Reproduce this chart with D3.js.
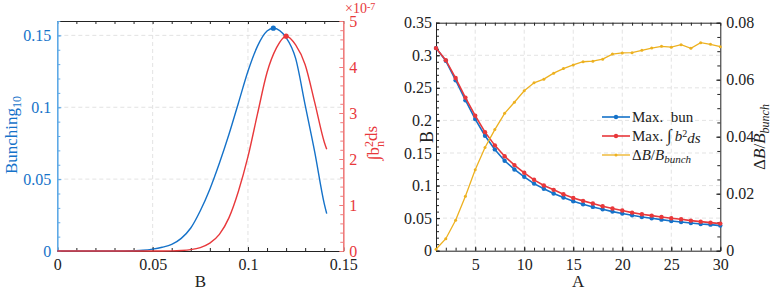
<!DOCTYPE html>
<html>
<head>
<meta charset="utf-8">
<script src="https://cdn.jsdelivr.net/npm/d3@7"></script>
<style>
  body { margin: 0; background: #fff; }
  svg { display: block; }
  svg text { font-family: "Liberation Serif", "Times New Roman", serif; }
</style>
</head>
<body>
<svg id="chart" width="772" height="290"></svg>
<script>
// left panel: bunching and integral vs B
const bunB = [0, 0.01, 0.02, 0.03, 0.035, 0.04, 0.045, 0.05, 0.055, 0.06, 0.065, 0.07, 0.075, 0.08, 0.085, 0.09, 0.095, 0.1, 0.105, 0.11, 0.1133, 0.12, 0.125, 0.13, 0.135, 0.14, 0.1413];
const bunV = [0, 0, 0, 0.00002, 0.00006, 0.0002, 0.0005, 0.0013, 0.0026, 0.0046, 0.0088, 0.016, 0.028, 0.043, 0.061, 0.081, 0.103, 0.125, 0.1425, 0.153, 0.155, 0.1485, 0.134, 0.1015, 0.069, 0.033, 0.026];
const intB = [0, 0.05, 0.055, 0.06, 0.065, 0.07, 0.075, 0.08, 0.085, 0.09, 0.095, 0.1, 0.105, 0.11, 0.115, 0.12, 0.125, 0.13, 0.135, 0.14, 0.1413];
const intV = [0, 0, 0.0005, 0.002, 0.01, 0.03, 0.075, 0.17, 0.36, 0.72, 1.3, 2.05, 2.98, 3.88, 4.42, 4.67, 4.48, 4.05, 3.23, 2.37, 2.21];
const bunPeak = [0.1133, 0.155];
const intPeak = [0.12, 4.67];

// right panel: optimum B vs A
const aVals = d3.range(1, 31);
const maxBun = [0.311, 0.2915, 0.2617, 0.231, 0.202, 0.1765, 0.1555, 0.138, 0.1247, 0.1134, 0.103, 0.095, 0.0878, 0.0816, 0.076, 0.0713, 0.0672, 0.0636, 0.060, 0.057, 0.0544, 0.0518, 0.0498, 0.0477, 0.0457, 0.0441, 0.0426, 0.041, 0.040, 0.0385];
const maxInt = [0.311, 0.2925, 0.265, 0.235, 0.2073, 0.182, 0.1617, 0.145, 0.1314, 0.1196, 0.1088, 0.100, 0.0934, 0.0867, 0.081, 0.0765, 0.0724, 0.0683, 0.0647, 0.0616, 0.0585, 0.056, 0.0539, 0.0518, 0.0498, 0.0482, 0.0462, 0.0446, 0.0431, 0.0416];
const deltaB = [0.0005, 0.0042, 0.0107, 0.0191, 0.0284, 0.0362, 0.0425, 0.0482, 0.0521, 0.0561, 0.0589, 0.0602, 0.0623, 0.0639, 0.0652, 0.0663, 0.0665, 0.0672, 0.069, 0.0694, 0.0695, 0.0703, 0.0711, 0.0717, 0.0714, 0.0723, 0.071, 0.073, 0.0724, 0.0716];

const ticksLX = [0, 0.05, 0.1, 0.15];
const ticksLY = [0, 0.05, 0.1, 0.15];
const ticksLY2 = [0, 1, 2, 3, 4, 5];
const ticksRX = [5, 10, 15, 20, 25, 30];
const ticksRY = [0, 0.05, 0.1, 0.15, 0.2, 0.25, 0.3, 0.35];
const ticksRY2 = [0, 0.02, 0.04, 0.06, 0.08];

const blue = "#1572c9", red = "#e8383b", yellow = "#edb120";
const axBlue = "#5ea9e6", axRed = "#ef7b7b";
const serif = "Liberation Serif, Times New Roman, serif";

const svg = d3.select("#chart");
const fmt = d => String(+d.toFixed(4));
const minor = (lo, hi, step) => d3.range(0, Math.round((hi - lo) / step) + 1).map(i => +(lo + i * step).toFixed(5));

function drawAxis(axis, tx, ty, color, textColor) {
  const g = svg.append("g").attr("transform", `translate(${tx},${ty})`).call(axis)
    .attr("font-family", serif).attr("font-size", 16);
  g.select(".domain").attr("stroke", color);
  g.selectAll(".tick line").attr("stroke", color);
  g.selectAll(".tick text").attr("fill", textColor || color);
  return g;
}
function minorAxis(axis, tx, ty, color) {
  const g = svg.append("g").attr("transform", `translate(${tx},${ty})`).call(axis);
  g.select(".domain").remove();
  g.selectAll(".tick line").attr("stroke", color);
  return g;
}
function grid(xs, ys, x, y, x0, x1, y0, y1) {
  const g = svg.append("g").attr("stroke", "#dcdcdc").attr("stroke-dasharray", "4,3").attr("stroke-width", 0.8);
  g.selectAll("line.v").data(xs).join("line").attr("class", "v")
    .attr("x1", d => x(d)).attr("x2", d => x(d)).attr("y1", y0).attr("y2", y1);
  g.selectAll("line.h").data(ys).join("line").attr("class", "h")
    .attr("y1", d => y(d)).attr("y2", d => y(d)).attr("x1", x0).attr("x2", x1);
}

// ---------- left panel ----------
const L = { x0: 57.3, x1: 343.3, y0: 21, y1: 251 };
const xL = d3.scaleLinear([0, 0.15], [L.x0, L.x1]);
const yL = d3.scaleLinear([0, 0.16], [L.y1, L.y0]);
const yL2 = d3.scaleLinear([0, 5], [L.y1, L.y0]);

grid([0.05, 0.1], [0.05, 0.1, 0.15], xL, yL, L.x0, L.x1, L.y0, L.y1);

minorAxis(d3.axisBottom(xL).tickValues(minor(0, 0.15, 0.01)).tickFormat("").tickSizeInner(-3).tickSizeOuter(0), 0, L.y1, "#222");
minorAxis(d3.axisTop(xL).tickValues(minor(0, 0.15, 0.01)).tickFormat("").tickSizeInner(-3).tickSizeOuter(0), 0, L.y0, "#222");
drawAxis(d3.axisBottom(xL).tickValues(ticksLX).tickFormat(fmt).tickSizeInner(-4).tickSizeOuter(0).tickPadding(8), 0, L.y1, "#222");
drawAxis(d3.axisTop(xL).tickValues([]).tickSizeOuter(0), 0, L.y0, "#222");
minorAxis(d3.axisLeft(yL).tickValues(minor(0, 0.16, 0.01)).tickFormat("").tickSizeInner(-3).tickSizeOuter(0), L.x0, 0, axBlue);
drawAxis(d3.axisLeft(yL).tickValues(ticksLY).tickFormat(fmt).tickSizeInner(-4).tickSizeOuter(0).tickPadding(6), L.x0, 0, axBlue, blue)
  .select(".domain").attr("stroke-width", 1.6);
minorAxis(d3.axisRight(yL2).tickValues(minor(0, 5, 0.2)).tickFormat("").tickSizeInner(-3).tickSizeOuter(0), L.x1, 0, axRed);
drawAxis(d3.axisRight(yL2).tickValues(ticksLY2).tickFormat(fmt).tickSizeInner(-4).tickSizeOuter(0).tickPadding(6), L.x1, 0, axRed, red)
  .select(".domain").attr("stroke-width", 1.6);

const lineBun = d3.line().x((d, i) => xL(bunB[i])).y(d => yL(d)).curve(d3.curveMonotoneX);
const lineInt = d3.line().x((d, i) => xL(intB[i])).y(d => yL2(d)).curve(d3.curveMonotoneX);
svg.append("path").attr("d", lineBun(bunV)).attr("fill", "none").attr("stroke", blue).attr("stroke-width", 1.4);
svg.append("path").attr("d", lineInt(intV)).attr("fill", "none").attr("stroke", red).attr("stroke-width", 1.4);
svg.append("circle").attr("cx", xL(bunPeak[0])).attr("cy", yL(bunPeak[1])).attr("r", 2.6).attr("fill", blue);
svg.append("circle").attr("cx", xL(intPeak[0])).attr("cy", yL2(intPeak[1])).attr("r", 2.6).attr("fill", red);

// labels
svg.append("text").attr("x", (L.x0 + L.x1) / 2).attr("y", 287).attr("text-anchor", "middle")
  .style("font-size", "17px").attr("fill", "#222").text("B");
const lb = svg.append("text").attr("transform", "translate(17,135) rotate(-90)").attr("text-anchor", "middle")
  .style("font-size", "17px").attr("fill", blue);
lb.append("tspan").text("Bunching");
lb.append("tspan").attr("dy", "0.35em").style("font-size", "12px").text("10");
const rb = svg.append("text").attr("transform", "translate(379,143) rotate(-90)").attr("text-anchor", "middle")
  .style("font-size", "17px").attr("fill", red);
rb.append("tspan").text("∫b");
rb.append("tspan").attr("dy", "-0.5em").style("font-size", "12px").text("2");
rb.append("tspan").attr("dx", "-6").attr("dy", "0.9em").style("font-size", "12px").text("n");
rb.append("tspan").attr("dy", "-0.4em").text("ds");
const ex = svg.append("text").attr("x", 345).attr("y", 13).style("font-size", "14px").attr("fill", red);
ex.append("tspan").text("×10");
ex.append("tspan").attr("dy", "-0.35em").style("font-size", "10px").text("-7");

// ---------- right panel ----------
const R = { x0: 436, x1: 720.3, y0: 22.7, y1: 250.7 };
const xR = d3.scaleLinear([1, 30], [R.x0, R.x1]);
const yR = d3.scaleLinear([0, 0.35], [R.y1, R.y0]);
const yR2 = d3.scaleLinear([0, 0.08], [R.y1, R.y0]);

grid([5, 10, 15, 20, 25], [0.05, 0.1, 0.15, 0.2, 0.25, 0.3], xR, yR, R.x0, R.x1, R.y0, R.y1);

minorAxis(d3.axisBottom(xR).tickValues(aVals).tickFormat("").tickSizeInner(-3).tickSizeOuter(0), 0, R.y1, "#222");
minorAxis(d3.axisTop(xR).tickValues(aVals).tickFormat("").tickSizeInner(-3).tickSizeOuter(0), 0, R.y0, "#222");
drawAxis(d3.axisBottom(xR).tickValues(ticksRX).tickFormat(fmt).tickSizeInner(-4).tickSizeOuter(0).tickPadding(8), 0, R.y1, "#222");
drawAxis(d3.axisTop(xR).tickValues([]).tickSizeOuter(0), 0, R.y0, "#222");
minorAxis(d3.axisLeft(yR).tickValues(minor(0, 0.35, 0.01)).tickFormat("").tickSizeInner(-3).tickSizeOuter(0), R.x0, 0, "#222");
drawAxis(d3.axisLeft(yR).tickValues(ticksRY).tickFormat(fmt).tickSizeInner(-4).tickSizeOuter(0).tickPadding(4), R.x0, 0, "#222");
minorAxis(d3.axisRight(yR2).tickValues(minor(0, 0.08, 0.005)).tickFormat("").tickSizeInner(-3).tickSizeOuter(0), R.x1, 0, "#222");
drawAxis(d3.axisRight(yR2).tickValues(ticksRY2).tickFormat(fmt).tickSizeInner(-4).tickSizeOuter(0).tickPadding(6), R.x1, 0, "#222");

const series = [
  { vals: maxBun, y: yR, color: blue, w: 1.6, r: 2.2 },
  { vals: maxInt, y: yR, color: red, w: 1.6, r: 2.2 },
  { vals: deltaB, y: yR2, color: yellow, w: 1.3, r: 1.5 },
];
series.forEach(s => {
  const line = d3.line().x((d, i) => xR(aVals[i])).y(d => s.y(d));
  svg.append("path").attr("d", line(s.vals)).attr("fill", "none").attr("stroke", s.color).attr("stroke-width", s.w);
  svg.append("g").selectAll("circle").data(s.vals).join("circle")
    .attr("cx", (d, i) => xR(aVals[i])).attr("cy", d => s.y(d)).attr("r", s.r).attr("fill", s.color);
});

svg.append("text").attr("x", (R.x0 + R.x1) / 2).attr("y", 287).attr("text-anchor", "middle")
  .style("font-size", "17px").attr("fill", "#222").text("A");
svg.append("text").attr("transform", "translate(433,137) rotate(-90)").attr("text-anchor", "middle")
  .style("font-size", "18px").attr("fill", "#222").text("B");
const r2 = svg.append("text").attr("transform", "translate(765,137) rotate(-90)").attr("text-anchor", "middle")
  .style("font-size", "17px").attr("fill", "#222");
r2.append("tspan").text("Δ");
r2.append("tspan").style("font-style", "italic").text("B");
r2.append("tspan").text("/");
r2.append("tspan").style("font-style", "italic").text("B");
r2.append("tspan").attr("dy", "0.3em").style("font-size", "12px").style("font-style", "italic").text("bunch");

// legend
const legendY = [117, 136, 155];
series.forEach((s, i) => {
  const y = legendY[i];
  svg.append("line").attr("x1", 602).attr("x2", 630).attr("y1", y).attr("y2", y).attr("stroke", s.color).attr("stroke-width", s.w);
  svg.append("circle").attr("cx", 616).attr("cy", y).attr("r", s.r).attr("fill", s.color);
});
const t1 = svg.append("text").attr("x", 632).attr("y", legendY[0] + 5).style("font-size", "15px").attr("fill", "#222");
t1.append("tspan").attr("xml:space", "preserve").text("Max.  bun");
const t2 = svg.append("text").attr("x", 632).attr("y", legendY[1] + 5).style("font-size", "15px").attr("fill", "#222");
t2.append("tspan").text("Max.  ");
t2.append("tspan").style("font-size", "17px").text("∫");
t2.append("tspan").attr("dx", "3").style("font-style", "italic").text("b");
t2.append("tspan").attr("dy", "-0.45em").style("font-size", "10px").text("2");
t2.append("tspan").attr("dy", "0.45em").style("font-style", "italic").text("ds");
const t3 = svg.append("text").attr("x", 632).attr("y", legendY[2] + 5).style("font-size", "15px").attr("fill", "#222");
t3.append("tspan").text("Δ");
t3.append("tspan").style("font-style", "italic").text("B");
t3.append("tspan").text("/");
t3.append("tspan").style("font-style", "italic").text("B");
t3.append("tspan").attr("dy", "0.3em").style("font-size", "11px").style("font-style", "italic").text("bunch");
</script>
</body>
</html>
